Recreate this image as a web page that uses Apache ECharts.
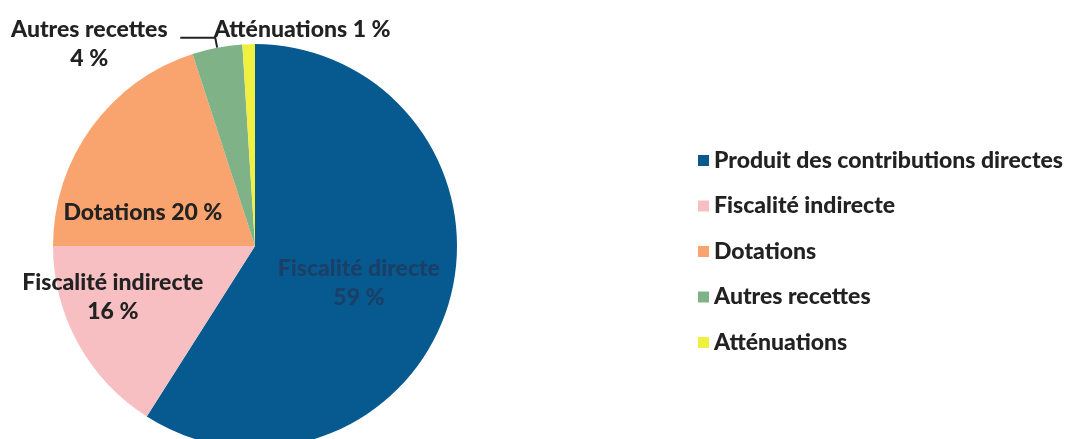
<!DOCTYPE html>
<html>
<head>
<meta charset="utf-8">
<script src="https://cdn.jsdelivr.net/npm/echarts@6/dist/echarts.min.js"></script>
<style>
html,body{margin:0;padding:0;background:#fff;}
#chart{width:1067px;height:439px;}
</style>
</head>
<body>
<div id="chart"></div>
<script>
// Data
const categories = ['Produit des contributions directes', 'Fiscalité indirecte', 'Dotations', 'Autres recettes', 'Atténuations'];
const values = [59, 16, 20, 4, 1];
const sliceLabels = ['Fiscalité directe\n59 %', 'Fiscalité indirecte\n16 %', 'Dotations 20 %', 'Autres recettes\n4 %', 'Atténuations 1 %'];
const colors = ['#075a8f', '#f8bfc3', '#f9a46e', '#7fb287', '#f0f040'];

// label nudges (dx, dy, align) relative to library-computed label spots
const labelNudges = [
  {dx: 4, dy: 8},
  {dx: -51, dy: 1},
  {dx: -28, dy: 28},
  {dx: -86, dy: 6, align: 'center'},
  {dx: 74, dy: 0, align: 'center'}
];

const FONT = 'Lato, "Open Sans", sans-serif';

const chart = echarts.init(document.getElementById('chart'), null, {renderer: 'canvas'});

const data = categories.map((name, i) => {
  const item = {
    name: name,
    value: values[i],
    itemStyle: {color: colors[i]}
  };
  if (i <= 2) {
    item.label = {position: 'inside'};
    item.labelLine = {show: false};
  } else if (i === 3) {
    item.label = {position: 'outside'};
    item.labelLine = {show: true, length: 10, length2: 35, smooth: false,
      lineStyle: {color: '#222', width: 2}};
  } else {
    item.label = {position: 'outside'};
    item.labelLine = {show: false, length: 15, length2: 15};
  }
  if (i === 0) item.label.color = '#1b3f66';
  return item;
});

chart.setOption({
  animation: false,
  backgroundColor: '#ffffff',
  legend: {
    orient: 'vertical',
    left: 693,
    top: 144,
    itemWidth: 11,
    itemHeight: 11,
    itemGap: 22.5,
    icon: 'rect',
    data: categories,
    textStyle: {fontFamily: FONT, fontWeight: 900, fontSize: 23, color: '#222'}
  },
  series: [{
    type: 'pie',
    center: [255, 246],
    radius: [0, 202],
    startAngle: 90,
    clockwise: true,
    avoidLabelOverlap: false,
    data: data,
    emphasis: {disabled: true},
    label: {
      show: true,
      formatter: p => sliceLabels[p.dataIndex],
      fontFamily: FONT,
      fontWeight: 900,
      fontSize: 23,
      lineHeight: 29,
      color: '#222',
      align: 'center'
    },
    labelLayout: function (params) {
      const n = labelNudges[params.dataIndex];
      const out = {dx: n.dx, dy: n.dy, hideOverlap: false};
      if (n.align) out.align = n.align;
      return out;
    }
  }]
});
</script>
</body>
</html>
